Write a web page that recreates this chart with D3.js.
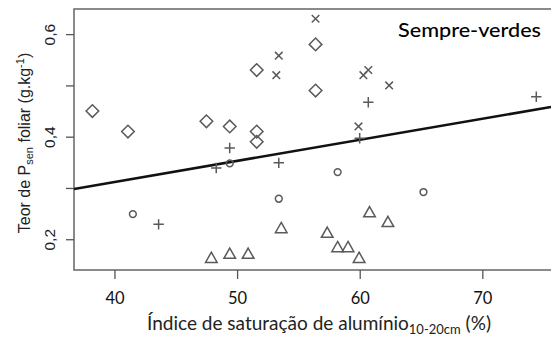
<!DOCTYPE html>
<html><head><meta charset="utf-8">
<script src="https://cdn.jsdelivr.net/npm/d3@7"></script>
<style>html,body{margin:0;padding:0;background:#fff;overflow:hidden}</style>
</head><body>
<svg id="c" width="551" height="343"></svg>
<script>
// Data (x = Índice de saturação de alumínio 10-20cm %, y = Teor de P sen foliar g/kg)
const diamonds = [[38.2,0.45],[41.1,0.41],[47.5,0.43],[49.4,0.42],[51.6,0.53],[51.6,0.41],[51.6,0.39],[56.4,0.58],[56.4,0.49]];
const crosses  = [[56.4,0.63],[53.4,0.558],[53.2,0.52],[60.3,0.52],[60.7,0.53],[62.4,0.50],[59.9,0.42]];
const pluses   = [[74.4,0.478],[60.7,0.467],[49.4,0.378],[48.3,0.339],[43.6,0.229],[53.4,0.349],[60.0,0.397]];
const circles  = [[41.5,0.249],[49.4,0.348],[53.4,0.279],[58.2,0.331],[65.2,0.292]];
const triangles= [[47.9,0.163],[49.4,0.171],[50.9,0.171],[53.6,0.221],[57.35,0.212],[58.2,0.184],[59.05,0.184],[59.95,0.163],[60.8,0.252],[62.3,0.233]];
const fitLine  = [[36.7,0.298],[75.6,0.458]];
const xTicks = [40,50,60,70];
const yTicks = [0.2,0.3,0.4,0.5,0.6];
const yLabelTicks = [0.2,0.4,0.6];

const svg = d3.select("#c");
const L=74, T=9, B=270, R=551;
const x = d3.scaleLinear().domain([36.7,75.6]).range([L,R]);
const y = d3.scaleLinear().domain([0.14,0.649]).range([B,T]);
const gray = "#5a5a5a";

// box (right side beyond window)
svg.append("rect").attr("x",L).attr("y",T).attr("width",R+20-L).attr("height",B-T)
  .attr("fill","none").attr("stroke","#6e6e6e").attr("stroke-width",1.6);

// x axis
const xa = svg.append("g").attr("transform",`translate(0,${B})`)
  .call(d3.axisBottom(x).tickValues(xTicks).tickSize(9).tickFormat(d3.format("d")));
xa.select(".domain").remove();
xa.selectAll("line").attr("stroke","#555").attr("stroke-width",1.3);
xa.selectAll("text").attr("font-family","Lato, 'Open Sans', sans-serif").attr("font-size",16.5)
  .attr("fill","#111").attr("dy","1.35em");

// y axis
const ya = svg.append("g").attr("transform",`translate(${L},0)`)
  .call(d3.axisLeft(y).tickValues(yTicks).tickSize(8).tickFormat(d => yLabelTicks.includes(d) ? d3.format(".1f")(d).replace(".",",") : ""));
ya.select(".domain").remove();
ya.selectAll("line").attr("stroke","#555").attr("stroke-width",1.3);
ya.selectAll("text").attr("font-family","'Liberation Sans', Arial, sans-serif").attr("font-size",15.5)
  .attr("fill","#222").attr("transform","rotate(-90)").attr("x",0).attr("y",-19).attr("dy",0)
  .attr("text-anchor","middle");

// clip
svg.append("clipPath").attr("id","clip").append("rect").attr("x",L).attr("y",T).attr("width",R-L).attr("height",B-T);
const g = svg.append("g").attr("clip-path","url(#clip)");

// fit line
g.append("path").datum(fitLine).attr("d",d3.line().x(d=>x(d[0])).y(d=>y(d[1])))
  .attr("stroke","#111").attr("stroke-width",2.6).attr("fill","none");

const mk = (data, pathFn) => g.append("g").selectAll("path").data(data).join("path")
  .attr("transform",d=>`translate(${x(d[0])},${y(d[1])})`).attr("d",pathFn)
  .attr("fill","none").attr("stroke",gray).attr("stroke-width",1.5);

mk(diamonds, ()=> "M0,-6.3L6.3,0L0,6.3L-6.3,0Z");
mk(crosses, ()=> "M-3.8,-3.8L3.8,3.8M-3.8,3.8L3.8,-3.8");
mk(pluses, ()=> "M-5.2,0L5.2,0M0,-5.2L0,5.2");
mk(circles, ()=> "M3.4,0A3.4,3.4 0 1,1 -3.4,0A3.4,3.4 0 1,1 3.4,0Z");
mk(triangles, ()=> "M0,-6L5.8,4.2L-5.8,4.2Z");

// legend label
svg.append("text").attr("x",398).attr("y",37)
  .attr("font-family","Lato, sans-serif").attr("font-size",20).attr("font-weight",500).attr("fill","#000")
  .attr("textLength",143).attr("lengthAdjust","spacingAndGlyphs")
  .text("Sempre-verdes");

// x title
const xt = svg.append("text").attr("x",319).attr("y",330).attr("text-anchor","middle")
  .attr("font-family","Lato, 'Open Sans', sans-serif").attr("font-size",19).attr("fill","#222");
xt.append("tspan").text("Índice de saturação de alumínio");
xt.append("tspan").attr("font-size",13).attr("dy",4).text("10-20cm");
xt.append("tspan").attr("dy",-4).text(" (%)");

// y title
const yt = svg.append("text").attr("transform","translate(30,143) rotate(-90)").attr("text-anchor","middle")
  .attr("font-family","'Liberation Sans', Arial, sans-serif").attr("font-size",16).attr("fill","#222");
yt.append("tspan").text("Teor de P");
yt.append("tspan").attr("font-size",11).attr("dy",3).text("sen");
yt.append("tspan").attr("dy",-3).text(" foliar (g.kg");
yt.append("tspan").attr("font-size",11).attr("dy",-6).text("-1");
yt.append("tspan").attr("dy",6).text(")");
</script>
</body></html>
